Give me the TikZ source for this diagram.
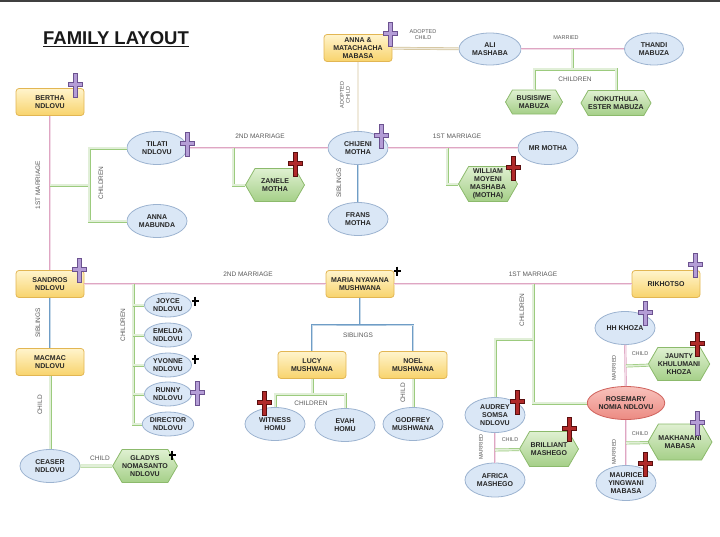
\documentclass[tikz,border=0pt]{standalone}
\usepackage{fontspec}
\setmainfont{Liberation Sans}
\usetikzlibrary{shapes.geometric,shapes.symbols,calc}

% colours
\definecolor{boxtop}{HTML}{FFF4CC}
\definecolor{boxbot}{HTML}{F8D36C}
\definecolor{boxline}{HTML}{E2B653}
\definecolor{ovalfill}{HTML}{DAE7F6}
\definecolor{ovalline}{HTML}{9CB3D0}
\definecolor{redtop}{HTML}{F8C2BC}
\definecolor{redbot}{HTML}{EC8A82}
\definecolor{redline}{HTML}{D0615B}
\definecolor{hextop}{HTML}{DFF0D1}
\definecolor{hexbot}{HTML}{A5CF88}
\definecolor{hexline}{HTML}{8CBA6C}
\definecolor{pinkline}{HTML}{DFA6C3}
\definecolor{greenline}{HTML}{9CCB7E}
\definecolor{blueline}{HTML}{6F9DC6}
\definecolor{tanline}{HTML}{D3C49C}
\definecolor{lilac}{HTML}{B49DD6}
\definecolor{lilacdark}{HTML}{6C5290}
\definecolor{blood}{HTML}{B02A2A}
\definecolor{blooddark}{HTML}{5A0E0E}

% grave cross: #1 fill, #2 outline, #3 position of the cross bar
\newcommand{\ripcross}[3]{%
  \filldraw[fill=#1, draw=#2, line width=0.5pt, shift={#3}]
    (-1.8,-11) -- (1.8,-11) -- (1.8,-1.8) -- (7,-1.8) -- (7,1.8) -- (1.8,1.8)
    -- (1.8,13) -- (-1.8,13) -- (-1.8,1.8) -- (-7,1.8) -- (-7,-1.8) -- (-1.8,-1.8) -- cycle;}
% small black plus
\newcommand{\smallplus}[1]{%
  \draw[line width=1.1pt, shift={#1}] (-3.5,0) -- (3.5,0) (0,-4.5) -- (0,4.5);}

\tikzset{
  person/.style={font=\bfseries\fontsize{7}{8}\selectfont, text=black!85, align=center, inner sep=0pt, line width=0.8pt},
  yellowbox/.style={person, rectangle, rounded corners=3pt, draw=boxline, top color=boxtop, bottom color=boxbot, minimum width=68, minimum height=27},
  oval/.style={person, ellipse, draw=ovalline, fill=ovalfill, minimum width=60, minimum height=33},
  smalloval/.style={oval, minimum width=47, minimum height=24},
  redoval/.style={oval, draw=redline, top color=redtop, bottom color=redbot},
  hexa/.style={person, signal, signal to=east and west, signal pointer angle=120, draw=hexline, top color=hextop, bottom color=hexbot, minimum width=59, minimum height=33},
  lbl/.style={font=\fontsize{6.5}{7.2}\selectfont, text=black!65, align=center, inner sep=0pt},
  marriage/.style={draw=pinkline, double=pinkline!40, double distance=1pt, line width=0.6pt},
  kids/.style={draw=greenline, double=greenline!30, double distance=1.6pt, line width=0.7pt},
  sibs/.style={draw=blueline, double=blueline!40, double distance=1pt, line width=0.6pt},
  adopt/.style={draw=tanline, double=tanline!35, double distance=1.4pt, line width=0.7pt},
}

\begin{document}
\begin{tikzpicture}[x=1pt, y=-1pt]

\useasboundingbox (0,0) rectangle (720,536);
\fill[black!75] (0,0) rectangle (720,1.5);

% Title
\node[font=\bfseries\fontsize{18.5}{20}\selectfont, text=black!90] (title) at (116,39) {\underline{FAMILY LAYOUT}};

% Top row
\node[yellowbox] (annamat) at (358,48) {ANNA \&\\MATACHACHA\\MABASA};
\node[oval, minimum width=62, minimum height=32] (ali) at (490,49) {ALI\\MASHABA};
\node[oval, minimum width=59, minimum height=32] (thandi) at (654,49) {THANDI\\MABUZA};
\node[hexa, minimum width=57, minimum height=24] (busisiwe) at (534,102) {BUSISIWE\\MABUZA};
\node[hexa, minimum width=60, minimum height=25] (nokuthula) at (616,103) {NOKUTHULA\\ESTER MABUZA};

% Motha generation
\node[yellowbox] (bertha) at (50,102) {BERTHA\\NDLOVU};
\node[oval] (tilati) at (157,148) {TILATI\\NDLOVU};
\node[oval] (annamab) at (157,221) {ANNA\\MABUNDA};
\node[oval] (chijeni) at (358,148) {CHIJENI\\MOTHA};
\node[oval] (frans) at (358,219) {FRANS\\MOTHA};
\node[oval] (mrmotha) at (548,148) {MR MOTHA};
\node[hexa] (zanele) at (275,185) {ZANELE\\MOTHA};
\node[hexa, minimum height=35] (william) at (488,184) {WILLIAM\\MOYENI\\MASHABA\\(MOTHA)};

% Middle row
\node[yellowbox] (sandros) at (50,284) {SANDROS\\NDLOVU};
\node[yellowbox] (maria) at (360,284) {MARIA NYAVANA\\MUSHWANA};
\node[yellowbox] (rikhotso) at (666,284) {RIKHOTSO};
\node[yellowbox] (macmac) at (50,362) {MACMAC\\NDLOVU};
\node[oval] (ceaser) at (50,466) {CEASER\\NDLOVU};
\node[hexa] (gladys) at (145,466) {GLADYS\\NOMASANTO\\NDLOVU};

% Ndlovu children
\node[smalloval] (joyce) at (168,305) {JOYCE\\NDLOVU};
\node[smalloval] (emelda) at (168,335) {EMELDA\\NDLOVU};
\node[smalloval] (yvonne) at (168,365) {YVONNE\\NDLOVU};
\node[smalloval] (runny) at (168,394) {RUNNY\\NDLOVU};
\node[smalloval] (director) at (168,424) {DIRECTOR\\NDLOVU};

% Mushwana family
\node[yellowbox] (lucy) at (312,365) {LUCY\\MUSHWANA};
\node[yellowbox] (noel) at (413,365) {NOEL\\MUSHWANA};
\node[oval] (witness) at (275,424) {WITNESS\\HOMU};
\node[oval] (evah) at (345,425) {EVAH\\HOMU};
\node[oval] (godfrey) at (413,424) {GODFREY\\MUSHWANA};

% Rikhotso side
\node[oval] (hhkhoza) at (625,328) {HH KHOZA};
\node[hexa] (jaunty) at (679,364) {JAUNTY\\KHULUMANI\\KHOZA};
\node[redoval] (rosemary) at (626,403) {ROSEMARY\\NOMIA NDLOVU};
\node[oval, minimum height=35] (audrey) at (495,415) {AUDREY\\SOMSA\\NDLOVU};
\node[oval, minimum height=34] (africa) at (495,480) {AFRICA\\MASHEGO};
\node[hexa, minimum height=35] (brilliant) at (549,449) {BRILLIANT\\MASHEGO};
\node[hexa, minimum height=36] (makhanani) at (680,442) {MAKHANANI\\MABASA};
\node[oval, minimum height=35] (maurice) at (626,483) {MAURICE\\YINGWANI\\MABASA};

% Points on the connectors
\coordinate (m1) at ($(ali)!0.5!(thandi)$);
\coordinate (c1) at (572,69);
\coordinate (m2) at (50,185);
\coordinate (b2) at (89,185);
\coordinate (m3) at (233,148);
\coordinate (m4) at (447,148);
\coordinate (m5) at (133,284);
\coordinate (s1) at (360,325);
\coordinate (c2) at (312,394);
\coordinate (m6) at (533,284);
\coordinate (c3) at (533,339);
\coordinate (m7) at (626,366);
\coordinate (m8) at (626,443);
\coordinate (m9) at (495,450);

% Adopted child links
\draw[adopt] (annamat) -- (ali);
\draw[adopt] (annamat) -- (chijeni);

% Marriages
\draw[marriage] (ali) -- (thandi);
\draw[marriage] (bertha) -- (sandros);
\draw[marriage] (tilati) -- (chijeni);
\draw[marriage] (chijeni) -- (mrmotha);
\draw[marriage] (sandros) -- (maria);
\draw[marriage] (maria) -- (rikhotso);
\draw[marriage] (hhkhoza) -- (rosemary);
\draw[marriage] (rosemary) -- (maurice);
\draw[marriage] (audrey) -- (africa);

% Siblings
\draw[sibs] (chijeni) -- (frans);
\draw[sibs] (sandros) -- (macmac);
\draw[sibs] (maria) -- (s1);
\draw[sibs] (lucy) |- (s1) -| (noel);

% Children
\draw[kids] (m1) -- (c1);
\draw[kids] (busisiwe) |- (c1) -| (nokuthula);
\draw[kids] (m2) -- (b2);
\draw[kids] (tilati) -| (b2) |- (annamab);
\draw[kids] (m3) |- (zanele);
\draw[kids] (m4) |- (william);
\draw[kids] (macmac) -- (ceaser);
\draw[kids] (ceaser) -- (gladys);
\draw[kids] (m5) |- (director);
\foreach \kid in {joyce,emelda,yvonne,runny}
  \draw[kids] (m5 |- \kid) -- (\kid);
\draw[kids] (lucy) -- (c2);
\draw[kids] (witness) |- (c2) -| (evah);
\draw[kids] (noel) -- (godfrey);
\draw[kids] (m6) |- (rosemary);
\draw[kids] (c3) -| (audrey);
\draw[kids] (m7) -- (jaunty);
\draw[kids] (m8) -- (makhanani);
\draw[kids] (m9) -- (brilliant);

% Labels
\node[lbl, font=\fontsize{5.5}{6}\selectfont] at (423,35) {ADOPTED\\CHILD};
\node[lbl, font=\fontsize{5.5}{6}\selectfont, rotate=90] at (345,95) {ADOPTED\\CHILD};
\node[lbl, font=\fontsize{5.5}{6}\selectfont] at (566,38) {MARRIED};
\node[lbl] at (575,79) {CHILDREN};
\node[lbl, rotate=90] at (38,185) {1ST MARRIAGE};
\node[lbl, rotate=90] at (101,183) {CHILDREN};
\node[lbl] at (260,136) {2ND MARRIAGE};
\node[lbl] at (457,136) {1ST MARRIAGE};
\node[lbl, rotate=90] at (339,183) {SIBLINGS};
\node[lbl] at (248,274) {2ND MARRIAGE};
\node[lbl] at (533,274) {1ST MARRIAGE};
\node[lbl, rotate=90] at (38,323) {SIBLINGS};
\node[lbl, rotate=90] at (40,405) {CHILD};
\node[lbl] at (100,458) {CHILD};
\node[lbl, rotate=90] at (123,325) {CHILDREN};
\node[lbl] at (358,335) {SIBLINGS};
\node[lbl] at (311,403) {CHILDREN};
\node[lbl, rotate=90] at (403,393) {CHILD};
\node[lbl, rotate=90] at (522,310) {CHILDREN};
\node[lbl, font=\fontsize{5.5}{6}\selectfont, rotate=90] at (614,368) {MARRIED};
\node[lbl, font=\fontsize{5.5}{6}\selectfont] at (640,354) {CHILD};
\node[lbl, font=\fontsize{5.5}{6}\selectfont, rotate=90] at (614,452) {MARRIED};
\node[lbl, font=\fontsize{5.5}{6}\selectfont] at (640,434) {CHILD};
\node[lbl, font=\fontsize{5.5}{6}\selectfont, rotate=90] at (481,447) {MARRIED};
\node[lbl, font=\fontsize{5.5}{6}\selectfont] at (510,440) {CHILD};

% Crosses of the deceased
\ripcross{lilac}{lilacdark}{(75,84)}
\ripcross{lilac}{lilacdark}{(390,33)}
\ripcross{lilac}{lilacdark}{(187,143)}
\ripcross{lilac}{lilacdark}{(381,135)}
\ripcross{lilac}{lilacdark}{(79,269)}
\ripcross{lilac}{lilacdark}{(695,264)}
\ripcross{lilac}{lilacdark}{(645,312)}
\ripcross{lilac}{lilacdark}{(197,392)}
\ripcross{lilac}{lilacdark}{(697,422)}
\ripcross{blood}{blooddark}{(295,163)}
\ripcross{blood}{blooddark}{(513,167)}
\ripcross{blood}{blooddark}{(264,402)}
\ripcross{blood}{blooddark}{(517,401)}
\ripcross{blood}{blooddark}{(569,428)}
\ripcross{blood}{blooddark}{(697,343)}
\ripcross{blood}{blooddark}{(645,463)}
\smallplus{(195,301)}
\smallplus{(195,359)}
\smallplus{(172,455)}
\smallplus{(397,271)}

\end{tikzpicture}
\end{document}
